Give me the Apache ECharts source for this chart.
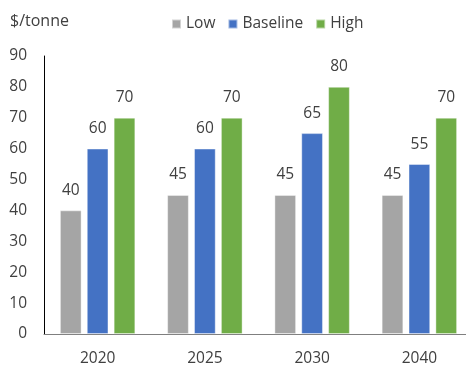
<!DOCTYPE html>
<html>
<head>
<meta charset="utf-8">
<script src="https://cdn.jsdelivr.net/npm/echarts@6/dist/echarts.min.js"></script>
<style>
  html, body { margin: 0; padding: 0; background: #fff; overflow: hidden; }
  /* the plot area runs past the right edge of the window, so the canvas is a bit wider */
  #chart { width: 480px; height: 367px; }
</style>
</head>
<body>
<div id="chart"></div>
<script>
// Carbon price scenarios, $/tonne
const years = ['2020', '2025', '2030', '2040'];
const low = [40, 45, 45, 45];
const baseline = [60, 60, 65, 55];
const high = [70, 70, 80, 70];
const yTicks = { min: 0, max: 90, interval: 10 };

const FONT = 'Open Sans';
const TEXT = '#404040';
const SIZE = 15.5;

const labelStyle = {
  show: true,
  position: 'top',
  distance: 12,
  color: TEXT,
  fontFamily: FONT,
  fontSize: SIZE
};

function barSeries(name, data, color) {
  return {
    name: name,
    type: 'bar',
    data: data,
    barWidth: 21.5,
    barGap: '25%',
    itemStyle: { color: color, borderColor: 'rgba(255,255,255,0.5)', borderWidth: 0.8 },
    label: labelStyle
  };
}

const chart = echarts.init(document.getElementById('chart'), null, { renderer: 'canvas' });
chart.setOption({
  animation: false,
  backgroundColor: '#fff',
  textStyle: { fontFamily: FONT },
  title: {
    text: '$/tonne',
    left: 5,
    top: 8,
    textStyle: { fontFamily: FONT, fontSize: 16, fontWeight: 'normal', color: TEXT }
  },
  legend: {
    left: 166,
    top: 11,
    itemWidth: 9,
    itemHeight: 9,
    itemGap: 12,
    icon: 'rect',
    textStyle: { fontFamily: FONT, fontSize: SIZE, color: TEXT, padding: [0, 0, 0, 0] },
    data: ['Low', 'Baseline', 'High']
  },
  grid: {
    left: 44,
    top: 56,
    width: 429,
    bottom: 32,
    containLabel: false
  },
  xAxis: {
    type: 'category',
    data: years,
    axisLine: { lineStyle: { color: '#7f7f7f', width: 1 } },
    axisTick: { show: false },
    axisLabel: { color: TEXT, fontFamily: FONT, fontSize: SIZE, margin: 17 }
  },
  yAxis: {
    type: 'value',
    min: yTicks.min,
    max: yTicks.max,
    interval: yTicks.interval,
    axisLine: { show: true, lineStyle: { color: '#000', width: 1 } },
    axisTick: { show: false },
    splitLine: { show: false },
    axisLabel: { color: TEXT, fontFamily: FONT, fontSize: SIZE, margin: 17 }
  },
  series: [
    barSeries('Low', low, '#A5A5A5'),
    barSeries('Baseline', baseline, '#4472C4'),
    barSeries('High', high, '#70AD47')
  ]
});
</script>
</body>
</html>
